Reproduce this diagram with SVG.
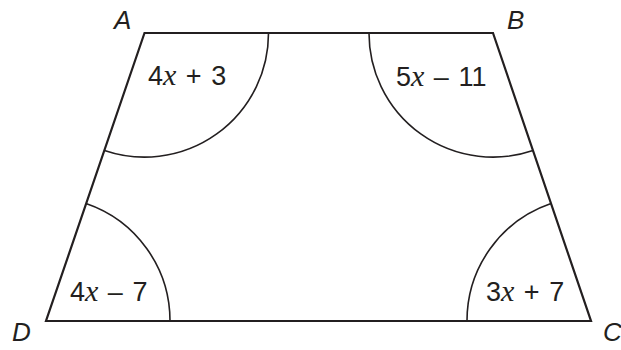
<svg xmlns="http://www.w3.org/2000/svg" width="621" height="350" viewBox="0 0 621 350">
<style>
.edge{fill:none;stroke:#231f20;stroke-width:2.2;stroke-linejoin:miter}
.arc{fill:none;stroke:#231f20;stroke-width:1.6}
.lbl{font-family:"Liberation Sans",Arial,sans-serif;font-size:27px;word-spacing:2px;fill:#231f20}
.vtx{font-family:"Liberation Sans",Arial,sans-serif;font-size:26px;font-style:italic;fill:#231f20}
.var{font-family:"Liberation Serif","Times New Roman",serif;font-style:italic;font-size:30px}
</style>
<rect width="621" height="350" fill="#ffffff"/>
<g id="edges">
<polygon class="edge" points="144.5,33 493,33 591,321 46,321"/>
</g>
<g id="vertexA">
<text class="vtx" x="114" y="29">A</text>
<path class="arc" d="M268.5,33 A124,124 0 0 1 104.5,150.5"/>
<text class="lbl" x="148" y="85">4<tspan class="var">x</tspan> + 3</text>
</g>
<g id="vertexB">
<text class="vtx" x="507" y="29">B</text>
<path class="arc" d="M369,33 A124,124 0 0 0 533,150.5"/>
<text class="lbl" x="396" y="86">5<tspan class="var">x</tspan> – 11</text>
</g>
<g id="vertexC">
<text class="vtx" x="603" y="341">C</text>
<path class="arc" d="M467,321 A124,124 0 0 1 551,203.5"/>
<text class="lbl" x="486" y="301">3<tspan class="var">x</tspan> + 7</text>
</g>
<g id="vertexD">
<text class="vtx" x="12" y="341">D</text>
<path class="arc" d="M170,321 A124,124 0 0 0 86,203.5"/>
<text class="lbl" x="70" y="301">4<tspan class="var">x</tspan> – 7</text>
</g>
</svg>
